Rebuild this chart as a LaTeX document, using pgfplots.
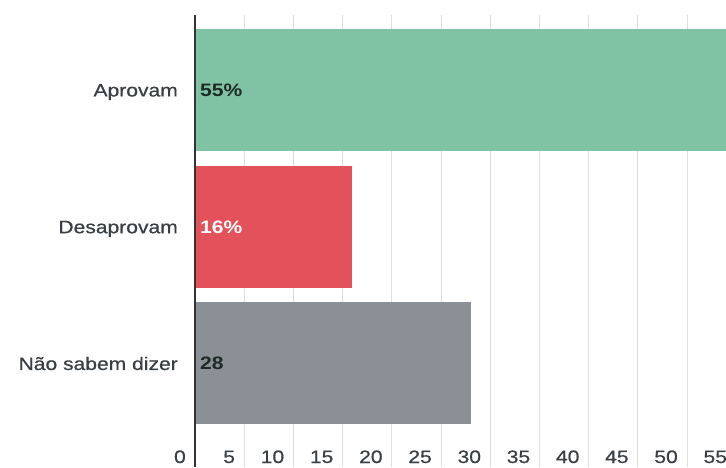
\documentclass[border=0pt]{standalone}
\usepackage{fontspec}
\setmainfont{Liberation Sans}[FakeStretch=1.17]
\newfontfamily\medfont{Liberation Sans}[FakeStretch=1.17, FakeBold=0.6]
\usepackage{pgfplots}
\pgfplotsset{compat=1.18}
\definecolor{cgreen}{HTML}{80C2A4}
\definecolor{cred}{HTML}{E3525A}
\definecolor{cgray}{HTML}{8B9096}
\definecolor{ctext}{HTML}{3A3F44}
\definecolor{clabel}{HTML}{1E2A25}
\definecolor{cgrid}{HTML}{DDDDDD}
\definecolor{caxis}{HTML}{333333}
\begin{document}
\begin{tikzpicture}
\useasboundingbox (0,0) rectangle (726pt,467pt);
\clip (0,0) rectangle (726pt,467pt);
\begin{axis}[
  at={(195pt,0pt)}, anchor=south west,
  scale only axis, width=551.04pt, height=452pt,
  xmin=0, xmax=56, ymin=-0.757, ymax=2.548,
  xbar, bar width=122pt,
  axis line style={draw=none},
  xtick={0,5,...,55}, ytick={0,1,2},
  yticklabels={Não sabem dizer, Desaprovam, Aprovam},
  major tick length=0pt,
  xmajorgrids, major grid style={cgrid, line width=0.9pt},
  /pgf/number format/assume math mode=true,
  ticklabel style={font=\fontsize{18}{20}\selectfont\medfont, text=ctext, inner sep=0pt},
  xticklabel style={anchor=base east, xshift=-9pt, yshift=4pt},
  yticklabel style={anchor=base east, xshift=-17pt, yshift=-6.5pt},
  clip=false,
]
\addplot[fill=cgreen, draw=none, bar shift=0pt] coordinates {(55,2)};
\addplot[fill=cred, draw=none, bar shift=0pt] coordinates {(16,1)};
\addplot[fill=cgray, draw=none, bar shift=0pt] coordinates {(28,0)};
\addplot[sharp plot, caxis, line width=2.5pt, forget plot] coordinates {(0,-0.757) (0,2.548)};
\addplot[sharp plot, bar shift=0pt, draw=none, mark=none, forget plot, nodes near coords, point meta=explicit symbolic,
  nodes near coords style={anchor=base west, xshift=5pt, yshift=-6.5pt, inner sep=0pt, font=\fontsize{18}{20}\selectfont\bfseries, text=clabel}]
  coordinates {(0,2) [55\%] (0,0) [28]};
\addplot[sharp plot, bar shift=0pt, draw=none, mark=none, forget plot, nodes near coords, point meta=explicit symbolic,
  nodes near coords style={anchor=base west, xshift=5pt, yshift=-6.5pt, inner sep=0pt, font=\fontsize{18}{20}\selectfont\bfseries, text=white}]
  coordinates {(0,1) [16\%]};
\end{axis}
\end{tikzpicture}
\end{document}
